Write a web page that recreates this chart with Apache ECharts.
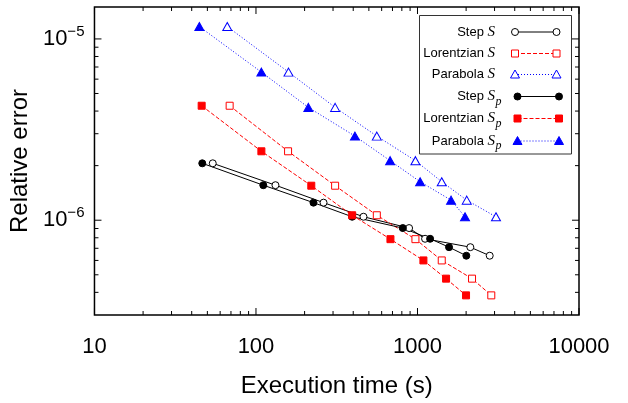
<!DOCTYPE html>
<html><head><meta charset="utf-8">
<script src="https://cdn.jsdelivr.net/npm/echarts@6/dist/echarts.min.js"></script>
<style>html,body{margin:0;padding:0;background:#fff}#c{width:628px;height:403px}</style>
</head><body><div id="c"></div>
<script>
// ---- data (execution time in s, relative error) ----
const stepS_time   = [54, 132, 262, 463, 887, 1114, 2124, 2800];
const stepS_err    = [2.06e-6, 1.56e-6, 1.25e-6, 1.045e-6, 9.05e-7, 7.9e-7, 7.1e-7, 6.37e-7];
const lorS_time    = [68.7, 158, 309, 560, 971, 1413, 2176, 2864];
const lorS_err     = [4.28e-6, 2.40e-6, 1.55e-6, 1.065e-6, 7.86e-7, 6.0e-7, 4.76e-7, 3.85e-7];
const parS_time    = [66.4, 159, 309, 560, 971, 1413, 2018, 3062];
const parS_err     = [1.17e-5, 6.56e-6, 4.19e-6, 2.91e-6, 2.13e-6, 1.63e-6, 1.29e-6, 1.044e-6];
const stepSp_time  = [46.5, 111, 227, 394, 811, 1197, 1568, 2006];
const stepSp_err   = [2.06e-6, 1.56e-6, 1.25e-6, 1.045e-6, 9.05e-7, 7.9e-7, 7.1e-7, 6.37e-7];
const lorSp_time   = [46.1, 108, 220, 394, 680, 1088, 1503, 1998];
const lorSp_err    = [4.28e-6, 2.40e-6, 1.55e-6, 1.065e-6, 7.86e-7, 6.0e-7, 4.76e-7, 3.85e-7];
const parSp_time   = [44.6, 108, 211, 410, 677, 1038, 1614, 1969];
const parSp_err    = [1.17e-5, 6.56e-6, 4.19e-6, 2.91e-6, 2.13e-6, 1.63e-6, 1.29e-6, 1.044e-6];

// axis ticks
const xMajorTicks = [10, 100, 1000, 10000];
const xMinorTicks = [20,30,40,50,60,70,80,90,200,300,400,500,600,700,800,900,2000,3000,4000,5000,6000,7000,8000,9000];
const yMajorTicks = [1e-6, 1e-5];
const yMinorTicks = [4e-7,5e-7,6e-7,7e-7,8e-7,9e-7,2e-6,3e-6,4e-6,5e-6,6e-6,7e-6,8e-6,9e-6];
const xAxisName = 'Execution time (s)';
const yAxisName = 'Relative error';

const SANS = 'Liberation Sans, Arial, Helvetica, sans-serif';
const SERIF = 'Liberation Serif, Times New Roman, serif';

function pairs(xs, ys){ return xs.map((x,i)=>[x, ys[i]]); }

function lineSeries(name, xs, ys, color, dash, symbol, size, filled){
  return {
    name, type:'line', data:pairs(xs, ys), symbol, symbolSize:size,
    showAllSymbol:true, silent:true, animation:false,
    lineStyle:{color, width:1, type:dash},
    itemStyle:{color: filled ? color : '#fff', borderColor: color, borderWidth:1, opacity:1},
    emphasis:{disabled:true}
  };
}

function xTick(params, api){
  const cs = params.coordSys;
  const px = api.coord([api.value(0), api.value(1)])[0];
  const len = api.value(2);
  const b = cs.y + cs.height, t = cs.y;
  return {type:'group', children:[
    {type:'line', shape:{x1:px, y1:b, x2:px, y2:b-len}, style:{stroke:'#000', lineWidth:1}},
    {type:'line', shape:{x1:px, y1:t, x2:px, y2:t+len}, style:{stroke:'#000', lineWidth:1}}
  ]};
}
function yTick(params, api){
  const cs = params.coordSys;
  const py = api.coord([api.value(0), api.value(1)])[1];
  const len = api.value(2);
  const l = cs.x, r = cs.x + cs.width;
  return {type:'group', children:[
    {type:'line', shape:{x1:l, y1:py, x2:l+len, y2:py}, style:{stroke:'#000', lineWidth:1}},
    {type:'line', shape:{x1:r, y1:py, x2:r-len, y2:py}, style:{stroke:'#000', lineWidth:1}}
  ]};
}

function isPow10(v){ const l = Math.log10(v); return Math.abs(l - Math.round(l)) < 1e-6; }

// legend (drawn as graphic, gnuplot style)
const legendRows = [
  {word:'Step ',       sub:false, color:'#000',    dash:'solid',  sym:'circle',   filled:false, y:32},
  {word:'Lorentzian ', sub:false, color:'#ff0000', dash:[4,2],    sym:'rect',     filled:false, y:53.5},
  {word:'Parabola ',   sub:false, color:'#0000ff', dash:[1,2],    sym:'triangle', filled:false, y:74.5},
  {word:'Step ',       sub:true,  color:'#000',    dash:'solid',  sym:'circle',   filled:true,  y:96.5},
  {word:'Lorentzian ', sub:true,  color:'#ff0000', dash:[4,2],    sym:'rect',     filled:true,  y:118.5},
  {word:'Parabola ',   sub:true,  color:'#0000ff', dash:[1,2],    sym:'triangle', filled:true,  y:141}
];
function symbolGraphic(kind, cx, cy, color, filled){
  const style = {fill: filled ? color : '#fff', stroke: color, lineWidth:1};
  if (kind === 'circle') return {type:'circle', shape:{cx, cy, r:3.5}, style, z:10};
  if (kind === 'rect') return {type:'rect', shape:{x:cx-3.5, y:cy-3.5, width:7, height:7}, style, z:10};
  return {type:'polygon', shape:{points:[[cx, cy-4.5],[cx+4.5, cy+3.5],[cx-4.5, cy+3.5]]}, style, z:10};
}
const graphics = [
  {type:'rect', shape:{x:419.5, y:15.5, width:152, height:138.5}, style:{fill:'#fff', stroke:'#333', lineWidth:1}, z:5}
];
legendRows.forEach(r => {
  const x1 = r.sub ? 517.5 : 515, x2 = r.sub ? 559 : 556.5;
  graphics.push({type:'text', x:495, y:r.y, z:10, style:{
    text:'{n|' + r.word + '}{m|S}', align:'right', verticalAlign:'middle',
    rich:{ n:{fontSize:13, fontFamily:SANS, fill:'#000'},
           m:{fontSize:15, fontFamily:SERIF, fontStyle:'italic', fill:'#000'} }
  }});
  if (r.sub) graphics.push({type:'text', x:495.5, y:r.y+5, z:10, style:{
    text:'p', align:'left', verticalAlign:'middle', fontSize:12, fontFamily:SERIF, fontStyle:'italic', fill:'#000'}});
  graphics.push({type:'line', shape:{x1, y1:r.y, x2, y2:r.y}, style:{stroke:r.color, lineWidth:1, lineDash: r.dash === 'solid' ? null : r.dash}, z:9});
  graphics.push(symbolGraphic(r.sym, x1, r.y, r.color, r.filled));
  graphics.push(symbolGraphic(r.sym, x2, r.y, r.color, r.filled));
});

const chart = echarts.init(document.getElementById('c'), null, {renderer:'canvas'});
chart.setOption({
  animation:false,
  backgroundColor:'#fff',
  grid:{left:94, right:49, top:7, bottom:87, show:true, borderColor:'#000', borderWidth:1.5, backgroundColor:'transparent'},
  xAxis:{
    type:'log', logBase:10, min:10, max:10000,
    axisLine:{show:false}, axisTick:{show:false}, splitLine:{show:false}, minorTick:{show:false},
    axisLabel:{fontSize:22, fontFamily:SANS, color:'#000', margin:21,
      formatter:(v)=> isPow10(v) ? String(Math.round(v)) : ''},
    name:xAxisName, nameLocation:'middle', nameGap:59,
    nameTextStyle:{fontSize:24, fontFamily:SANS, color:'#000'}
  },
  yAxis:{
    type:'log', logBase:10, min:3e-7, max:1.5e-5,
    axisLine:{show:false}, axisTick:{show:false}, splitLine:{show:false}, minorTick:{show:false},
    axisLabel:{margin:10, color:'#000',
      formatter:(v)=> isPow10(v) ? '{b|10}{s|\u2212' + Math.abs(Math.round(Math.log10(v))) + '}' : '',
      rich:{ b:{fontSize:22, fontFamily:SANS, color:'#000', lineHeight:30},
             s:{fontSize:15, fontFamily:SANS, color:'#000', lineHeight:9, verticalAlign:'top'} }
    },
    name:yAxisName, nameLocation:'middle', nameGap:58,
    nameTextStyle:{fontSize:24, fontFamily:SANS, color:'#000'}
  },
  graphic: graphics,
  series:[
    {type:'custom', renderItem:xTick, silent:true, clip:false,
     data: xMinorTicks.map(v=>[v, 1e-6, 4]).concat(xMajorTicks.map(v=>[v, 1e-6, 7]))},
    {type:'custom', renderItem:yTick, silent:true, clip:false,
     data: yMinorTicks.map(v=>[100, v, 4]).concat(yMajorTicks.map(v=>[100, v, 7]))},
    lineSeries('Step S', stepS_time, stepS_err, '#000', 'solid', 'circle', 7, false),
    lineSeries('Lorentzian S', lorS_time, lorS_err, '#ff0000', [4,2], 'rect', 7, false),
    lineSeries('Parabola S', parS_time, parS_err, '#0000ff', [1,2], 'triangle', [9,8], false),
    lineSeries('Step Sp', stepSp_time, stepSp_err, '#000', 'solid', 'circle', 7, true),
    lineSeries('Lorentzian Sp', lorSp_time, lorSp_err, '#ff0000', [4,2], 'rect', 7, true),
    lineSeries('Parabola Sp', parSp_time, parSp_err, '#0000ff', [1,2], 'triangle', [9,8], true)
  ]
});
</script></body></html>
